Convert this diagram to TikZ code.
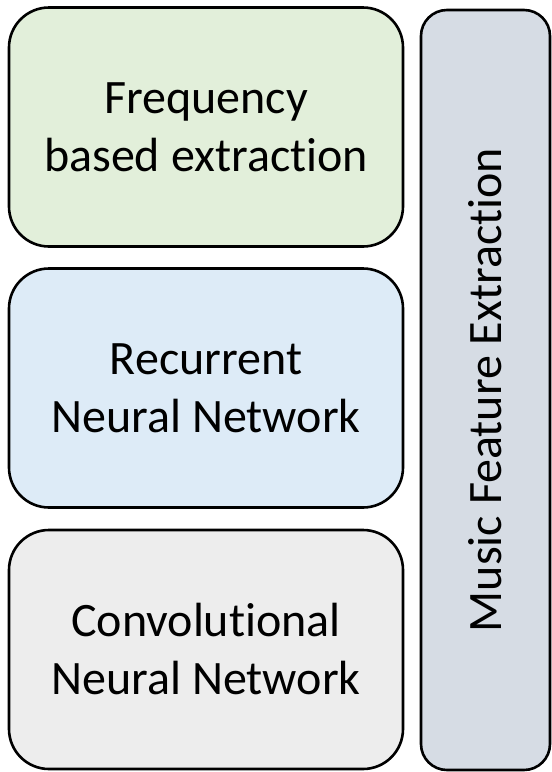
\documentclass[tikz,border=0pt]{standalone}
\usepackage{fontspec}
\setmainfont[Ligatures=CommonOff]{Carlito}
\begin{document}
\begin{tikzpicture}[x=1pt,y=-1pt,
  stage/.style={draw=black, line width=2.6pt, rounded corners=40pt,
    minimum width=394pt, minimum height=239pt, inner sep=0pt,
    align=center, font=\fontsize{48}{58}\selectfont},
  panel/.style={draw=black, line width=2.6pt, rounded corners=26pt,
    fill=panelfill, minimum width=129pt, minimum height=760pt, inner sep=0pt}]
\definecolor{greenfill}{HTML}{E2EFDA}
\definecolor{bluefill}{HTML}{DDEBF7}
\definecolor{grayfill}{HTML}{EDEDED}
\definecolor{panelfill}{HTML}{D6DCE4}
\useasboundingbox (0,0) rectangle (552,772);
\node[stage, fill=greenfill] (freq) at (206,127) {Frequency\\based extraction};
\node[stage, fill=bluefill] (rnn) at (206,388) {Recurrent\\Neural Network};
\node[stage, fill=grayfill] (cnn) at (206,649.5) {Convolutional\\Neural Network};
\node[panel] (mfe) at (485.5,390) {};
\node[rotate=90, font=\fontsize{48}{58}\selectfont] (mfelabel) at (mfe.center) {Music Feature Extraction};
\end{tikzpicture}
\end{document}
